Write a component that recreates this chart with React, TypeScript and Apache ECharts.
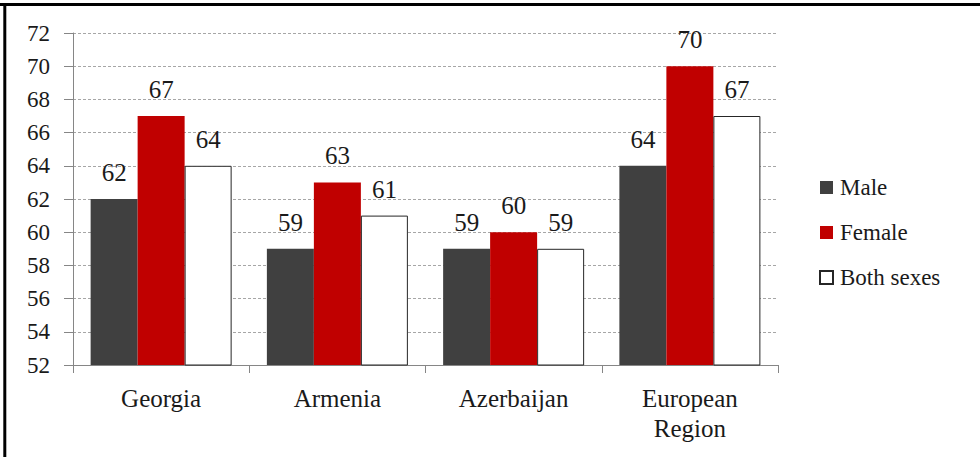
import React, { useEffect, useRef } from "react";
import * as echarts from "echarts";

const categories = ["Georgia", "Armenia", "Azerbaijan", "European\nRegion"];
const maleValues = [62, 59, 59, 64];
const femaleValues = [67, 63, 60, 70];
const bothValues = [64, 61, 59, 67];
const seriesNames = ["Male", "Female", "Both sexes"];

const FONT = "'Liberation Serif', 'Times New Roman', serif";

export default function App() {
  const ref = useRef<HTMLDivElement>(null);
  useEffect(() => {
    if (!ref.current) return;
    const chart = echarts.init(ref.current, null, { renderer: "svg" });
    const labelCfg = {
      show: true,
      position: "top" as const,
      distance: 14,
      fontSize: 25,
      fontFamily: FONT,
      color: "#1a1a1a",
    };
    chart.setOption({
      animation: false,
      backgroundColor: "#ffffff",
      textStyle: { fontFamily: FONT },
      graphic: [
        { type: "line", shape: { x1: 0, y1: 4.5, x2: 980, y2: 4.5 }, style: { stroke: "#000", lineWidth: 3 }, z: 100 },
        { type: "line", shape: { x1: 4.8, y1: 3, x2: 4.8, y2: 457 }, style: { stroke: "#000", lineWidth: 3 }, z: 100 },
      ],
      grid: { left: 73, right: 202, top: 33, bottom: 92, containLabel: false },
      legend: {
        orient: "vertical",
        left: 819,
        top: 176,
        padding: 0,
        itemWidth: 13,
        itemHeight: 13,
        itemGap: 22,
        icon: "rect",
        data: seriesNames,
        textStyle: { fontSize: 23, fontFamily: FONT, color: "#1a1a1a", padding: [0, 0, 0, 2] },
      },
      xAxis: {
        type: "category",
        data: categories,
        axisLine: { show: true, lineStyle: { color: "#868686", width: 1 } },
        axisTick: { show: true, length: 8, lineStyle: { color: "#868686" } },
        axisLabel: {
          margin: 18,
          fontSize: 25,
          lineHeight: 30,
          fontFamily: FONT,
          color: "#1a1a1a",
        },
      },
      yAxis: {
        type: "value",
        min: 52,
        max: 72,
        interval: 2,
        axisLine: { show: true, lineStyle: { color: "#868686", width: 1 } },
        axisTick: { show: true, length: 9, lineStyle: { color: "#868686" } },
        axisLabel: { margin: 23, fontSize: 23, fontFamily: FONT, color: "#1a1a1a" },
        splitLine: { show: true, lineStyle: { color: "#a6a6a6", type: [3, 2], width: 1 } },
      },
      series: [
        {
          name: seriesNames[0],
          type: "bar",
          data: maleValues,
          barGap: "0%",
          barCategoryGap: "20%",
          itemStyle: { color: "#404040" },
          label: labelCfg,
        },
        {
          name: seriesNames[1],
          type: "bar",
          data: femaleValues,
          barGap: "0%",
          barCategoryGap: "20%",
          itemStyle: { color: "#c00000" },
          label: labelCfg,
        },
        {
          name: seriesNames[2],
          type: "bar",
          data: bothValues,
          barGap: "0%",
          barCategoryGap: "20%",
          itemStyle: { color: "#ffffff", borderColor: "#262626", borderWidth: 1 },
          label: labelCfg,
        },
      ],
    });
    return () => chart.dispose();
  }, []);
  return (
    <div
      ref={ref}
      style={{ position: "absolute", left: 0, top: 0, width: 980, height: 457 }}
    />
  );
}
